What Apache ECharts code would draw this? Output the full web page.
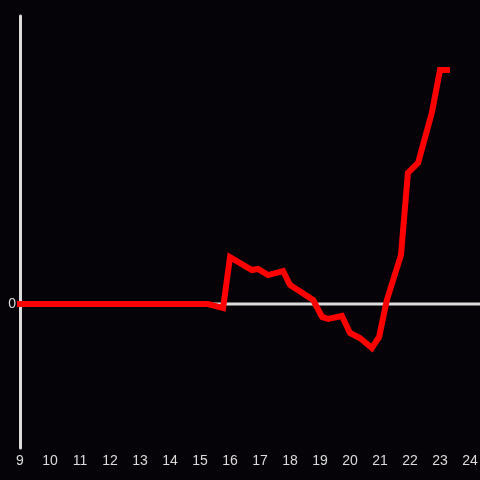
<!DOCTYPE html>
<html>
<head>
<meta charset="utf-8">
<script src="https://cdn.jsdelivr.net/npm/echarts@6/dist/echarts.min.js"></script>
<style>
  html, body { margin: 0; padding: 0; background: #050307; }
  #chart { width: 480px; height: 480px; }
</style>
</head>
<body>
<div id="chart"></div>
<script>
// hour of day (x) and value (y)
const hours = [9, 15.17, 15.27, 15.77, 16.0, 16.73, 16.93, 17.27, 17.77, 18.0, 18.77,
  19.07, 19.27, 19.73, 20.0, 20.33, 20.73, 20.97, 21.23, 21.7, 21.93, 22.27, 22.73, 23.0, 23.23];
const values = [0, 0, 0, -2.8, 32.6, 23.6, 24.3, 20.1, 22.9, 13.2, 2.8,
  -9.0, -10.4, -8.3, -20.1, -23.6, -30.6, -22.9, 2.8, 34, 91, 98, 133, 162.5, 162.5];
const xTicks = [9, 10, 11, 12, 13, 14, 15, 16, 17, 18, 19, 20, 21, 22, 23, 24];

const xMin = 9;
const xMax = 9 + 460 / 30;

const chart = echarts.init(document.getElementById("chart"));

const labelColor = "#dcdcdc";

chart.setOption({
  backgroundColor: "#050307",
  animation: false,
  grid: { left: 20, right: 0, top: 16, bottom: 32, outerBoundsMode: "none", containLabel: false },
  xAxis: {
    type: "value",
    min: xMin,
    max: xMax,
    interval: 1,
    axisLine: { show: false },
    axisTick: { show: false },
    splitLine: { show: false },
    axisLabel: {
      color: labelColor,
      fontSize: 14,
      margin: 6,
      formatter: v => (xTicks.includes(v) ? String(v) : "")
    }
  },
  yAxis: {
    type: "value",
    min: -100,
    max: 200,
    interval: 100,
    axisLine: { show: true, onZero: false, lineStyle: { color: labelColor, width: 3 } },
    axisTick: { show: false },
    splitLine: { show: false },
    axisLabel: {
      color: labelColor,
      fontSize: 14,
      margin: 4,
      formatter: v => (v === 0 ? "0" : "")
    }
  },
  series: [
    {
      // zero reference line, drawn under the data
      type: "line",
      z: 1,
      silent: true,
      showSymbol: false,
      data: [[xMin, 0], [xMax, 0]],
      lineStyle: { color: labelColor, width: 3 }
    },
    {
      type: "line",
      z: 2,
      data: hours.map((h, i) => [h, values[i]]),
      showSymbol: false,
      lineStyle: { color: "#ff0000", width: 6, join: "miter", cap: "square" }
    }
  ]
});
</script>
</body>
</html>
